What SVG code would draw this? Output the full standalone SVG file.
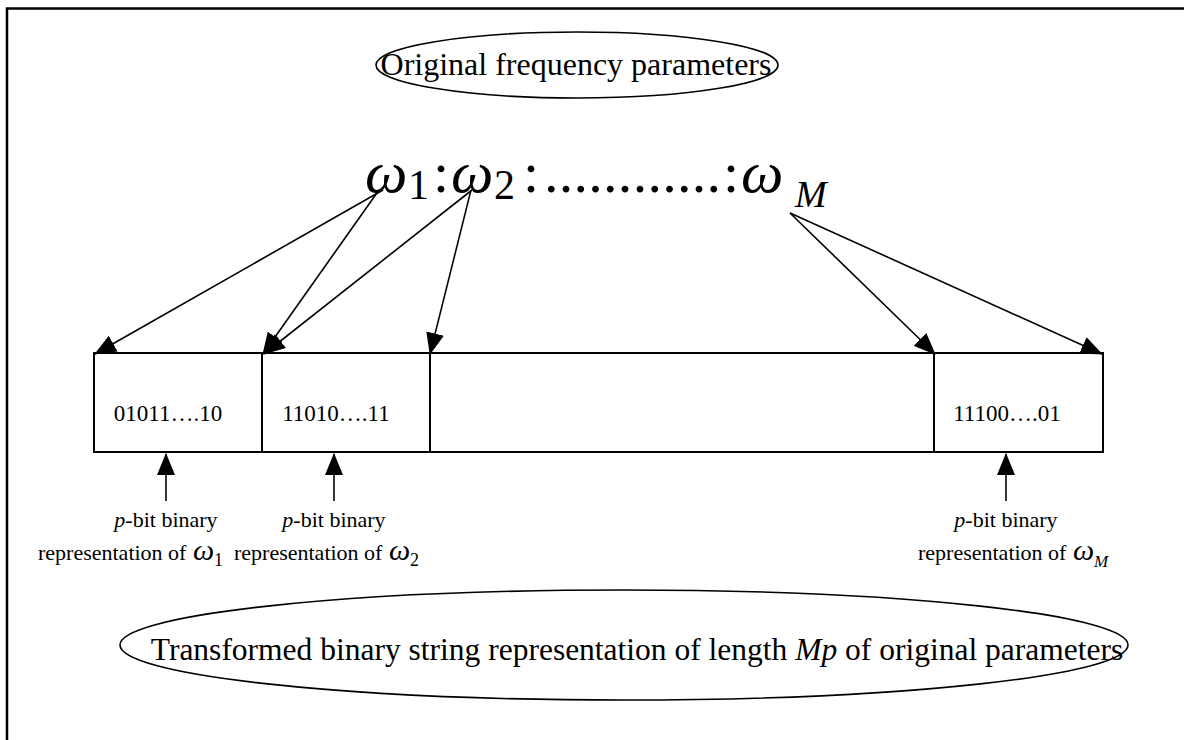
<svg xmlns="http://www.w3.org/2000/svg" width="1184" height="740" viewBox="0 0 1184 740">
<defs>
<marker id="ah" markerUnits="userSpaceOnUse" markerWidth="22" markerHeight="18" refX="21" refY="9" orient="auto">
<path d="M0,0 L22,9 L0,18 Z" fill="#000"/>
</marker>
<style>
.t{font-family:"Liberation Serif","Times New Roman",serif;fill:#000}
.i{font-style:italic}
.ln{stroke:#000;stroke-width:1.6;fill:none}
.bx{stroke:#000;stroke-width:2;fill:#fff}
.el{stroke:#000;stroke-width:1.6;fill:none}
</style>
</defs>
<rect x="0" y="0" width="1184" height="740" fill="#fff"/>
<rect x="7" y="8.5" width="1200" height="760" fill="none" stroke="#000" stroke-width="2.5"/>

<g id="orig">
<ellipse class="el" cx="577" cy="65" rx="201" ry="33"/>
<text class="t" x="576" y="75" font-size="32" text-anchor="middle">Original frequency parameters</text>
</g>

<g id="omegas">
<text class="t i" x="365" y="192" font-size="60">ω</text>
<text class="t" x="408" y="199" font-size="42">1</text>
<text class="t" x="433" y="192" font-size="58">:</text>
<text class="t i" x="451" y="192" font-size="60">ω</text>
<text class="t" x="494" y="199" font-size="42">2</text>
<text class="t" x="523" y="192" font-size="58">:</text>
<text class="t" x="544" y="192" font-size="58" textLength="177" lengthAdjust="spacing">............</text>
<text class="t" x="723" y="192" font-size="58">:</text>
<text class="t i" x="741" y="192" font-size="60">ω</text>
<text class="t i" x="795" y="207" font-size="38">M</text>
</g>

<g id="string">
<rect class="bx" x="94" y="353" width="168" height="99"/>
<rect class="bx" x="262" y="353" width="168" height="99"/>
<rect class="bx" x="430" y="353" width="504" height="99"/>
<rect class="bx" x="934" y="353" width="169" height="99"/>
<text class="t" x="168" y="421" font-size="23" text-anchor="middle">01011….10</text>
<text class="t" x="336" y="421" font-size="23" text-anchor="middle">11010….11</text>
<text class="t" x="1007" y="421" font-size="23" text-anchor="middle">11100….01</text>
</g>

<g id="connectors">
<line class="ln" x1="383" y1="190" x2="95" y2="354" marker-end="url(#ah)"/>
<line class="ln" x1="379" y1="190" x2="263" y2="354" marker-end="url(#ah)"/>
<line class="ln" x1="472" y1="190" x2="264" y2="354" marker-end="url(#ah)"/>
<line class="ln" x1="471" y1="190" x2="430" y2="354" marker-end="url(#ah)"/>
<line class="ln" x1="790" y1="213" x2="935" y2="354" marker-end="url(#ah)"/>
<line class="ln" x1="790" y1="213" x2="1102" y2="354" marker-end="url(#ah)"/>
<line class="ln" x1="166" y1="501" x2="166" y2="454" marker-end="url(#ah)"/>
<line class="ln" x1="334" y1="501" x2="334" y2="454" marker-end="url(#ah)"/>
<line class="ln" x1="1006" y1="501" x2="1006" y2="454" marker-end="url(#ah)"/>
</g>

<g id="label1">
<text class="t" x="166" y="527" font-size="22" text-anchor="middle"><tspan class="i">p</tspan>-bit binary</text>
<text class="t" x="38" y="560" font-size="22">representation of</text>
<text class="t i" x="193" y="560" font-size="30">ω</text>
<text class="t" x="214" y="566" font-size="18">1</text>
</g>
<g id="label2">
<text class="t" x="334" y="527" font-size="22" text-anchor="middle"><tspan class="i">p</tspan>-bit binary</text>
<text class="t" x="234" y="560" font-size="22">representation of</text>
<text class="t i" x="389" y="560" font-size="30">ω</text>
<text class="t" x="410" y="566" font-size="18">2</text>
</g>
<g id="label3">
<text class="t" x="1006" y="527" font-size="22" text-anchor="middle"><tspan class="i">p</tspan>-bit binary</text>
<text class="t" x="918" y="560" font-size="22">representation of</text>
<text class="t i" x="1073" y="560" font-size="30">ω</text>
<text class="t i" x="1094" y="567" font-size="17">M</text>
</g>

<g id="transformed">
<ellipse class="el" cx="624" cy="645" rx="504" ry="55"/>
<text class="t" x="637" y="660" font-size="31.5" text-anchor="middle">Transformed binary string representation of length <tspan class="i">Mp</tspan> of original parameters</text>
</g>
</svg>
